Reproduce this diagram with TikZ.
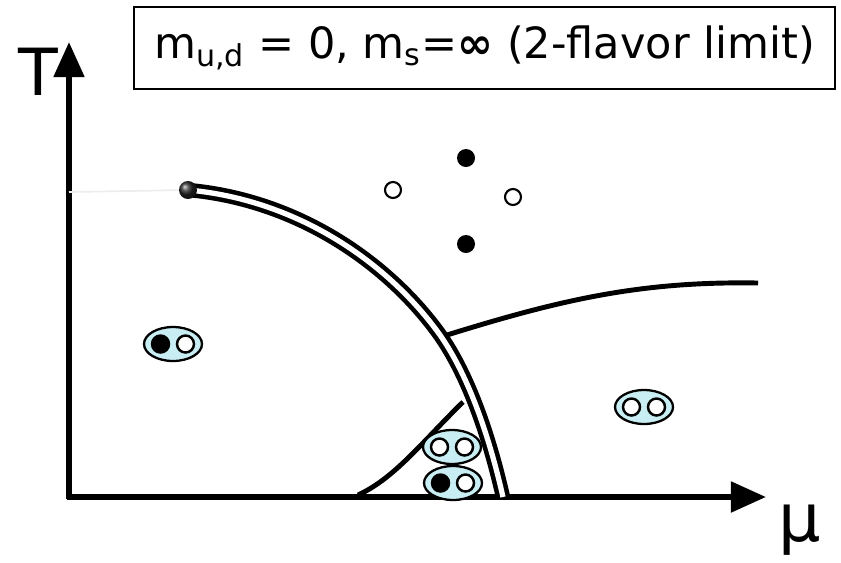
\documentclass[tikz,border=0pt]{standalone}
\usepackage{fontspec}
\setmainfont{DejaVu Sans}
\usetikzlibrary{shapes,arrows.meta,positioning,calc}
\usepackage{xcolor}
\definecolor{mesonfill}{RGB}{200,238,244}

\tikzset{
    axis/.style={line width=3.3pt, -{Triangle[length=20pt,width=17pt]}},
    phaseline/.style={line width=2.8pt},
    firstorder/.style={line width=2.6pt, double=white, double distance=3pt},
    meson/.style={ellipse, draw, line width=1.3pt, fill=mesonfill, minimum width=1.16cm, minimum height=0.68cm, inner sep=0pt},
    quark/.style={circle, draw, line width=1.4pt, minimum size=0.34cm, inner sep=0pt},
    freequark/.style={circle, draw, line width=1.2pt, minimum size=0.32cm, inner sep=0pt},
    antiquark/.style={circle, fill=black, minimum size=0.36cm, inner sep=0pt},
}

\newcommand{\meson}[3]{%
    \node[meson] (#1) at (#2) {};
    \node[quark, fill=#3] (#1a) at ([xshift=-0.25cm]#1.center) {};
    \node[quark, fill=white] (#1b) at ([xshift=0.25cm]#1.center) {};
}

\begin{document}
\begin{tikzpicture}[x=0.02cm, y=-0.02cm]
        \useasboundingbox (0,0) rectangle (841,562);

        % axes
        \coordinate (origin) at (69,497);
        \coordinate (Ttop) at (69,42);
        \coordinate (murt) at (766,497);
        \draw[axis] ($(origin)+(0,1.6)$) -- (Ttop);
        \draw[axis] ($(origin)+(-1.6,0)$) -- (murt);
        \node[anchor=base, inner sep=0pt, font=\fontsize{37}{37}\selectfont] (Tlabel) at (38,95) {T};
        \node[anchor=base, inner sep=0pt, font=\fontsize{38}{38}\selectfont] (mulabel) at (800,541) {μ};

        % title box
        \node[draw, line width=1.1pt, minimum width=14.02cm, minimum height=1.64cm, font=\fontsize{24.5}{28}\selectfont] (title) at (484.5,48)
            {m\textsubscript{u,d} = 0, m\textsubscript{s}=\textbf{∞} (2-flavor limit)};

        % phase boundaries
        \coordinate (cep) at (188,190);
        \coordinate (bend) at (440,335);
        \coordinate (cfl) at (503,497);
        \coordinate (tri) at (447,335);
        \coordinate (qgpend) at (758,283);
        \coordinate (twosc) at (358,495);
        \coordinate (twosctop) at (463,402);
        \draw[black!7, line width=1pt] (69,192) -- (cep);
        \draw[firstorder] (cep) .. controls (300,200) and (390,265) .. (bend)
            .. controls (470,378) and (490,440) .. (cfl);
        \draw[phaseline] (tri) .. controls (560,300) and (640,281) .. (qgpend);
        \draw[phaseline] (twosc) .. controls (395,478) and (422,442) .. (twosctop);
        \shade[ball color=black!85] (cep) circle (0.18cm);

        % free quarks
        \node[antiquark] (q1) at (466,158) {};
        \node[antiquark] (q2) at (466,244) {};
        \node[freequark] (q3) at (393,190) {};
        \node[freequark] (q4) at (513,197) {};

        % mesons and pairs
        \meson{hadron}{173,344}{black}
        \meson{cflpair}{644,407}{white}
        \meson{twoscpair}{452,447}{white}
        \meson{mixpair}{453,483}{black}
    \end{tikzpicture}
\end{document}
